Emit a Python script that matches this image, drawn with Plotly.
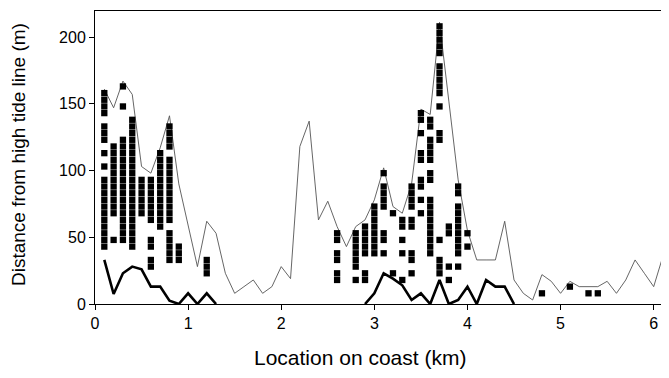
import plotly.graph_objects as go

# Upper envelope (thin line): location (km) vs distance (m)
km = [0.1, 0.2, 0.3, 0.4, 0.5, 0.6, 0.7, 0.8, 0.9, 1.0,
      1.1, 1.2, 1.3, 1.4, 1.5, 1.6, 1.7, 1.8, 1.9, 2.0,
      2.1, 2.2, 2.3, 2.4, 2.5, 2.6, 2.7, 2.8, 2.9, 3.0,
      3.1, 3.2, 3.3, 3.4, 3.5, 3.6, 3.7, 3.8, 3.9, 4.0,
      4.1, 4.2, 4.3, 4.4, 4.5, 4.6, 4.7, 4.8, 4.9, 5.0,
      5.1, 5.2, 5.3, 5.4, 5.5, 5.6, 5.7, 5.8, 5.9, 6.0, 6.1]
upper_m = [161, 147, 167, 157, 103, 98, 117, 141, 90, 59,
           28, 62, 53, 23, 8, 13, 18, 8, 13, 28,
           19, 118, 137, 63, 77, 58, 43, 58, 63, 78,
           102, 73, 68, 90, 146, 142, 211, 152, 93, 55,
           33, 33, 33, 62, 18, 8, 3, 22, 17, 8,
           17, 13, 13, 13, 17, 8, 18, 33, 23, 13, 36]

# Lower line (thick), two segments
lower_km = [0.1, 0.2, 0.3, 0.4, 0.5, 0.6, 0.7, 0.8, 0.9, 1.0, 1.1, 1.2, 1.3,
            None,
            2.9, 3.0, 3.1, 3.2, 3.3, 3.4, 3.5, 3.6, 3.7, 3.8, 3.9, 4.0,
            4.1, 4.2, 4.3, 4.4, 4.5]
lower_m = [33, 7.5, 23, 28, 26, 13, 13, 2.5, 0, 8, 0, 8, 0,
           None,
           0, 8, 23, 19, 14, 3, 8, 0, 18, 0, 3, 13,
           0, 18, 13, 13, 0]

# Individual observations (squares), per location column
obs = {
    0.1: [158, 153, 148, 143, 133, 128, 123, 113, 103, 93, 88, 83, 78, 73, 68, 63, 58, 53, 48, 43],
    0.2: [118, 113, 108, 103, 98, 93, 88, 83, 78, 73, 68, 48],
    0.3: [163, 148, 123, 118, 113, 108, 103, 98, 93, 88, 83, 78, 73, 68, 63, 58, 53, 48],
    0.4: [138, 133, 128, 123, 118, 113, 108, 103, 98, 93, 88, 83, 78, 73, 68, 63, 58, 53, 48, 43],
    0.5: [93, 88, 83, 78, 73, 68],
    0.6: [93, 88, 83, 78, 73, 68, 63, 48, 43, 33, 28],
    0.7: [113, 108, 103, 98, 93, 88, 83, 78, 73, 68, 63, 58],
    0.8: [133, 128, 123, 118, 108, 103, 98, 93, 88, 83, 78, 73, 68, 63, 53, 48, 43, 38, 33],
    0.9: [43, 38, 33],
    1.2: [33, 28, 23],
    2.6: [53, 48, 38, 33, 23, 18],
    2.8: [53, 48, 43, 38, 33, 28, 18],
    2.9: [58, 53, 48, 43, 38, 23, 18],
    3.0: [73, 68, 63, 58, 53, 48, 43, 38],
    3.1: [98, 88, 83, 78, 73, 53, 48, 38],
    3.2: [68, 23],
    3.3: [63, 58, 48, 38, 18],
    3.4: [88, 83, 78, 73, 63, 58, 38, 33, 23],
    3.5: [143, 138, 128, 113, 108, 93, 88, 78, 68],
    3.6: [138, 133, 123, 118, 113, 108, 98, 93, 78, 73, 68, 63, 58, 53, 48, 43, 38],
    3.7: [208, 203, 198, 193, 188, 178, 173, 168, 163, 158, 148, 128, 123, 48, 33, 28, 23],
    3.8: [58, 53, 28, 18],
    3.9: [88, 83, 73, 68, 63, 58, 53, 48, 43, 38, 28],
    4.0: [53, 43],
    4.8: [8],
    5.1: [13],
    5.3: [8],
    5.4: [8],
}

x_ticks = [0, 1, 2, 3, 4, 5, 6]
y_ticks = [0, 50, 100, 150, 200]

obs_x, obs_y = [], []
for loc, vals in obs.items():
    for v in vals:
        obs_x.append(loc)
        obs_y.append(v)

FONT = "Liberation Sans, Arial, sans-serif"
TICK_FONT = "Liberation Sans Narrow, Arial Narrow, Liberation Sans, Arial, sans-serif"

# page body has an 8px default margin; figure is sized to fit the window
W, H = 661, 370
L, R, T, B = 87, 6, 3, 74
PW, PH = W - L - R, H - T - B

fig = go.Figure()
fig.add_trace(go.Scatter(x=km, y=upper_m, mode="lines",
                         line=dict(color="#555555", width=0.9),
                         showlegend=False, hoverinfo="skip"))
fig.add_trace(go.Scatter(x=obs_x, y=obs_y, mode="markers",
                         marker=dict(symbol="square", size=6.3, color="black",
                                     line=dict(width=0)),
                         showlegend=False, cliponaxis=False))
fig.add_trace(go.Scatter(x=lower_km, y=lower_m, mode="lines",
                         line=dict(color="black", width=2.6),
                         connectgaps=False, showlegend=False))

fig.update_layout(
    width=W, height=H,
    margin=dict(l=L, r=R, t=T, b=B),
    paper_bgcolor="white", plot_bgcolor="white",
    font=dict(family=FONT, color="black", size=15),
    xaxis=dict(range=[0, 6.1], tickvals=x_ticks, ticks="outside", ticklen=5,
               tickwidth=1, tickcolor="black", showline=True, linecolor="black",
               linewidth=1, mirror=True, showgrid=False, zeroline=False,
               automargin=False,
               tickfont=dict(size=16, family=TICK_FONT)),
    yaxis=dict(range=[0, 219.5], tickvals=y_ticks, ticks="outside", ticklen=5,
               tickwidth=1, tickcolor="black", showline=True, linecolor="black",
               linewidth=1, mirror=True, showgrid=False, zeroline=False,
               automargin=False,
               tickfont=dict(size=16, family=TICK_FONT)),
    annotations=[
        dict(text="Location on coast (km)", xref="paper", yref="paper",
             x=(352 - L) / PW, y=-(349 - (H - B)) / PH, xanchor="center",
             yanchor="middle", showarrow=False, font=dict(size=21)),
        dict(text="Distance from high tide line (m)", xref="paper", yref="paper",
             x=-(L - 10) / PW, y=((H - B) - 146) / PH, xanchor="center",
             yanchor="middle", textangle=-90, showarrow=False, font=dict(size=19)),
    ],
)

fig.write_html("out.html")
